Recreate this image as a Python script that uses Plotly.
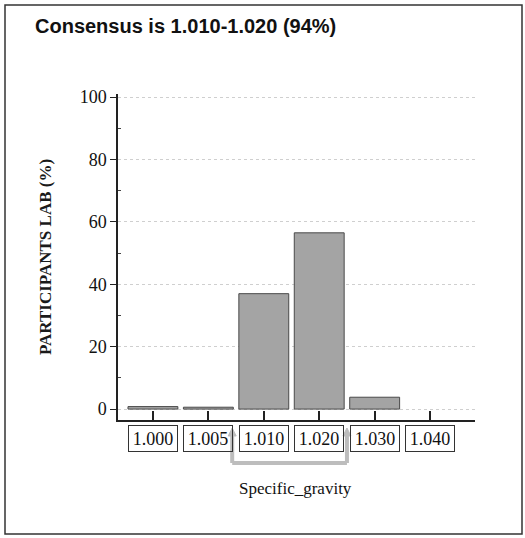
import plotly.graph_objects as go

categories = ["1.000", "1.005", "1.010", "1.020", "1.030", "1.040"]
participants_pct = [0.8, 0.6, 37.0, 56.5, 3.8, 0.0]
y_ticks = [0, 20, 40, 60, 80, 100]

title_text = "Consensus is 1.010-1.020 (94%)"
y_title = "PARTICIPANTS LAB (%)"
x_title = "Specific_gravity"

W, H = 525, 538
L, R, T, B = 118, 50, 94, 118
XR = [-0.63, 5.81]
YR = [-3.5, 101.0]

def px_to_paper_x(px):
    return (px - L) / (W - L - R)

def px_to_paper_y(py):
    return (H - B - py) / (H - B - T)

def idx_to_paper_x(i):
    return (i - XR[0]) / (XR[1] - XR[0])

fig = go.Figure()
fig.add_trace(go.Bar(
    x=list(range(len(categories))), y=participants_pct, width=0.9,
    marker=dict(color="#a4a4a4",
                line=dict(color="#4a4a4a", width=[0 if v == 0 else 1 for v in participants_pct])),
    hoverinfo="skip",
))

serif = "Liberation Serif"
fig.update_layout(
    width=W, height=H,
    margin=dict(l=L, r=R, t=T, b=B, autoexpand=False),
    paper_bgcolor="white", plot_bgcolor="white",
    showlegend=False,
    title=dict(text="<b>" + title_text + "</b>", x=35 / W, xanchor="left",
               y=1 - 26 / H, yanchor="middle",
               font=dict(family="Liberation Sans", size=20, color="#111")),
    xaxis=dict(range=XR, tickvals=list(range(len(categories))), showticklabels=False,
               ticks="inside", ticklen=9, tickwidth=1.5, tickcolor="#222",
               showline=True, linecolor="#222", linewidth=1.5,
               showgrid=False, zeroline=False, automargin=False),
    yaxis=dict(range=YR, tickvals=y_ticks, ticks="outside", ticklen=6,
               tickwidth=1, tickcolor="#222",
               minor=dict(tickvals=[10, 30, 50, 70, 90], ticks="inside", ticklen=3, tickcolor="#444", showgrid=False),
               showline=True, linecolor="#222", linewidth=1.5,
               showgrid=True, gridcolor="#cfcfcf", griddash="dot", gridwidth=1,
               zeroline=False, automargin=False,
               tickfont=dict(family=serif, size=18, color="#111"),
               title=dict(text="<b>" + y_title + "</b>", standoff=24,
                          font=dict(family=serif, size=17, color="#1a1a1a"))),
)

# category label boxes
for i, c in enumerate(categories):
    fig.add_annotation(x=i, xref="x", y=px_to_paper_y(438.5), yref="paper",
                       text=c, showarrow=False, yanchor="middle",
                       width=44, height=21, borderpad=2,
                       bordercolor="#333", borderwidth=1, bgcolor="rgba(255,255,255,0)",
                       font=dict(family=serif, size=18, color="#111"))

# x axis title
fig.add_annotation(x=px_to_paper_x(295), xref="paper", y=px_to_paper_y(500), yref="paper",
                   text=x_title, showarrow=False,
                   font=dict(family=serif, size=17, color="#111"))

# consensus bracket (under 1.010 and 1.020)
bx0 = idx_to_paper_x(1.43)
bx1 = idx_to_paper_x(3.50)
ytop = px_to_paper_y(436)
ybot = px_to_paper_y(463)
gcol = "#bdbdbd"
for bx in (bx0, bx1):
    fig.add_shape(type="line", xref="paper", yref="paper", x0=bx, x1=bx, y0=ybot, y1=ytop,
                  line=dict(color=gcol, width=4))
    ah = 4 / (W - L - R)
    fig.add_shape(type="path", xref="paper", yref="paper",
                  path=f"M {bx-ah},{ytop} L {bx+ah},{ytop} L {bx},{px_to_paper_y(428)} Z",
                  fillcolor=gcol, line=dict(color=gcol, width=1))
fig.add_shape(type="line", xref="paper", yref="paper", x0=bx0, x1=bx1, y0=ybot, y1=ybot,
              line=dict(color=gcol, width=4))

# outer frame
fig.add_shape(type="rect", xref="paper", yref="paper",
              x0=px_to_paper_x(5), x1=px_to_paper_x(522),
              y0=px_to_paper_y(534), y1=px_to_paper_y(5),
              line=dict(color="#333", width=1.5))

fig.write_html("out.html", config={"displayModeBar": False},
               post_script="document.body.style.margin='0px';")
